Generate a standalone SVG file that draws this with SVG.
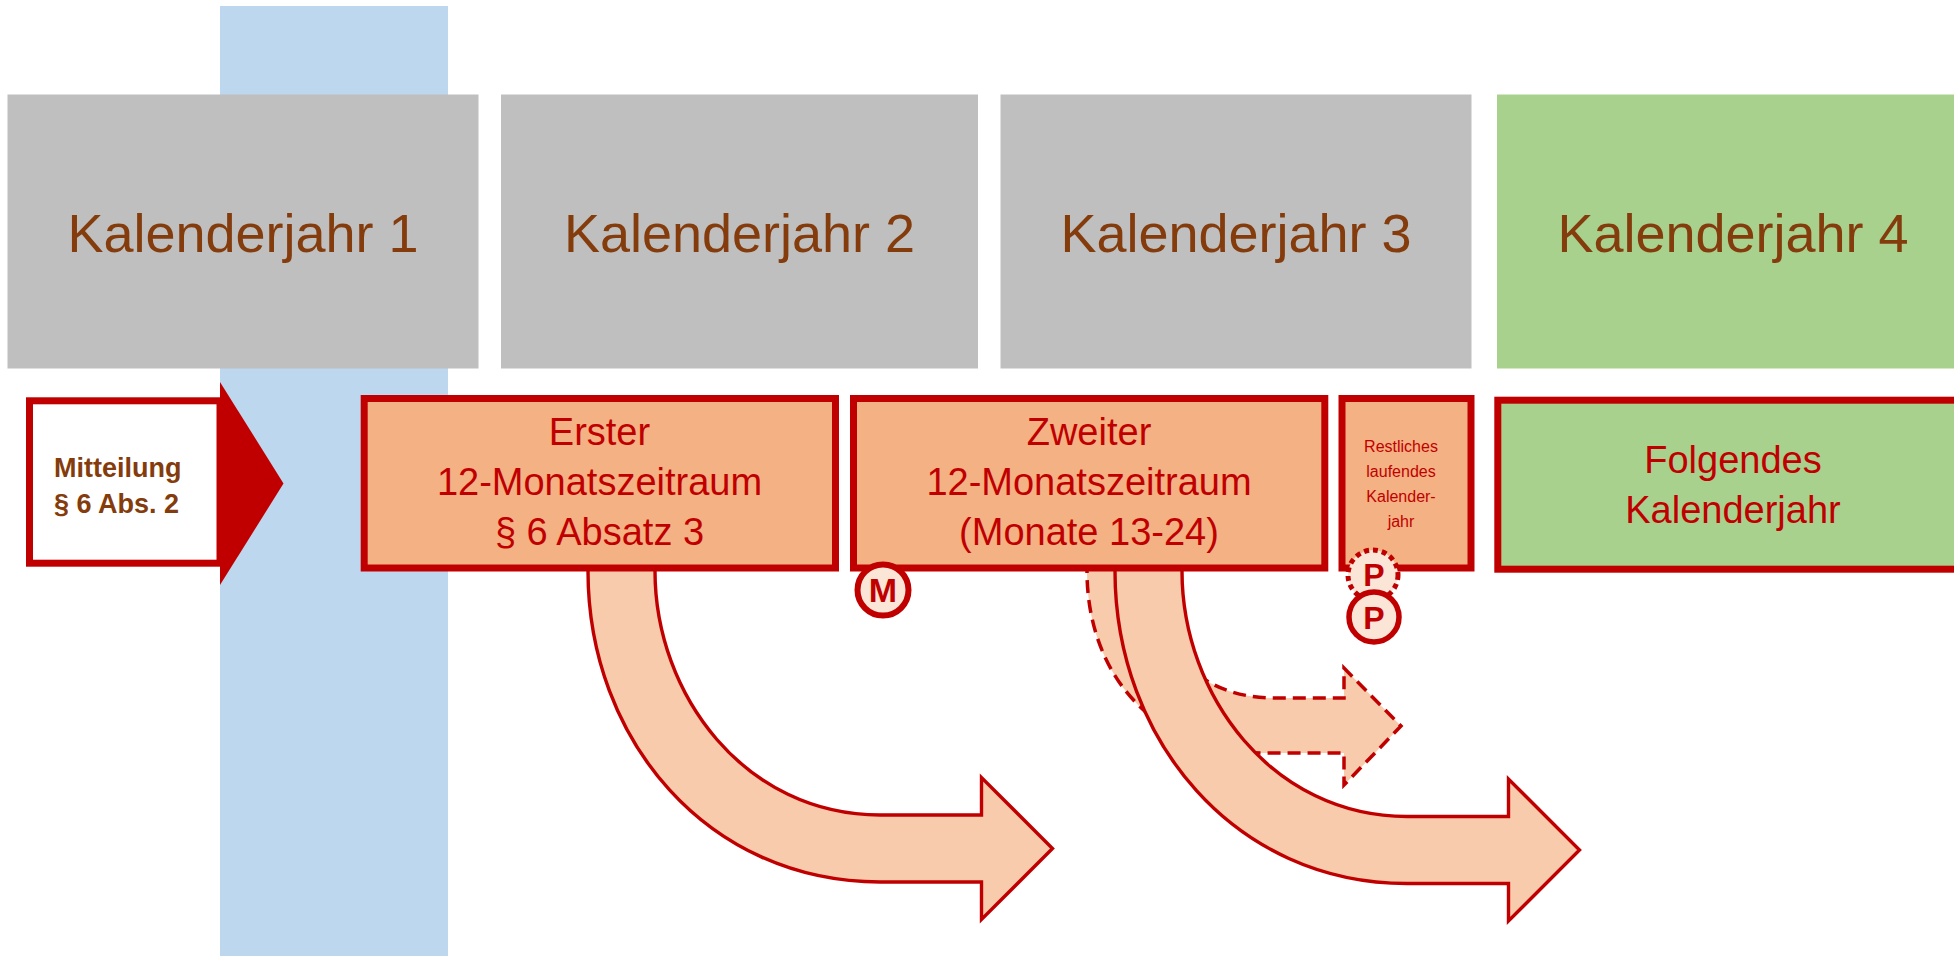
<svg xmlns="http://www.w3.org/2000/svg" width="1954" height="956" viewBox="0 0 1954 956">
<style>
.yr{fill:#BFBFBF}
.yr4{fill:#A9D18E}
.yt{font-family:"Liberation Sans",Arial,sans-serif;font-size:54px;fill:#843C0C;text-anchor:middle}
.box{fill:#F4B183;stroke:#C00000;stroke-width:7}
.gbox{fill:#A9D18E;stroke:#C00000;stroke-width:7}
.bt{font-family:"Liberation Sans",Arial,sans-serif;font-size:38px;fill:#C00000;text-anchor:middle}
.st{font-family:"Liberation Sans",Arial,sans-serif;font-size:16px;fill:#C00000;text-anchor:middle}
.arr{fill:#F8CBAD;stroke:#C00000;stroke-width:3.4;stroke-linejoin:miter}
.dash{fill:#F8CBAD;stroke:#C00000;stroke-width:3.5;stroke-dasharray:13 7}
.mk{fill:#FBE5D6;stroke:#C00000}
.mt{font-family:"Liberation Sans",Arial,sans-serif;font-weight:bold;fill:#C00000;text-anchor:middle}
.mit{font-family:"Liberation Sans",Arial,sans-serif;font-size:27px;font-weight:bold;fill:#843C0C}
</style>
<rect width="1954" height="956" fill="#FFFFFF"/>
<g id="band"><rect x="220" y="6" width="228" height="950" fill="#BDD7EE"/></g>
<g id="kj1"><rect class="yr" x="7.5" y="94.5" width="471" height="274"/><text class="yt" x="243" y="252">Kalenderjahr 1</text></g>
<g id="kj2"><rect class="yr" x="501" y="94.5" width="477" height="274"/><text class="yt" x="739.5" y="252">Kalenderjahr 2</text></g>
<g id="kj3"><rect class="yr" x="1000.5" y="94.5" width="471" height="274"/><text class="yt" x="1236" y="252">Kalenderjahr 3</text></g>
<g id="kj4"><rect class="yr4" x="1497" y="94.5" width="473" height="274"/><text class="yt" x="1733" y="252">Kalenderjahr 4</text></g>
<g id="mitteilung">
<rect x="29.5" y="400.8" width="190.5" height="162.4" fill="#FFFFFF" stroke="#C00000" stroke-width="7"/>
<polygon points="220,382 283.5,483.5 220,585" fill="#C00000"/>
<text class="mit" x="54" y="477">Mitteilung</text>
<text class="mit" x="54" y="513">§ 6 Abs. 2</text>
</g>
<g id="connectors">
<path id="arrow-dashed" class="dash" d="M 1087 560 L 1087 571 C 1087 675 1155 753 1262 753 L 1344 753 L 1344 785 L 1401 726 L 1344 668 L 1344 698 L 1275 698 C 1200 698 1153 650 1153 571 L 1153 560 Z"/>
<path id="arrow1" class="arr" d="M 588 560 L 588 571 C 588 740 708 882 880 882 L 981.5 882 L 981.5 919.5 L 1052.5 848.5 L 981.5 777.5 L 981.5 815 L 880 815 C 745 815 655 695 655 571 L 655 560 Z"/>
<path id="arrow2" class="arr" d="M 1115 560 L 1115 571 C 1115 740 1235 883.5 1407 883.5 L 1508.5 883.5 L 1508.5 921 L 1579.5 850 L 1508.5 779 L 1508.5 816.5 L 1407 816.5 C 1272 816.5 1182 695 1182 571 L 1182 560 Z"/>
</g>
<g id="erster"><rect class="box" x="364.2" y="398.5" width="471.3" height="169.5"/>
<text class="bt" x="599.5" y="445">Erster</text><text class="bt" x="599.5" y="495">12-Monatszeitraum</text><text class="bt" x="599.5" y="545">§ 6 Absatz 3</text></g>
<g id="zweiter"><rect class="box" x="853.5" y="398.5" width="471.3" height="169.5"/>
<text class="bt" x="1089" y="445">Zweiter</text><text class="bt" x="1089" y="495">12-Monatszeitraum</text><text class="bt" x="1089" y="545">(Monate 13-24)</text></g>
<g id="restliches"><rect class="box" x="1342" y="398.5" width="129" height="169.5"/>
<text class="st" x="1401" y="452">Restliches</text><text class="st" x="1401" y="477">laufendes</text><text class="st" x="1401" y="502">Kalender-</text><text class="st" x="1401" y="527">jahr</text></g>
<g id="folgendes"><rect class="gbox" x="1497.8" y="400.2" width="480" height="169"/>
<text class="bt" x="1733" y="473">Folgendes</text><text class="bt" x="1733" y="523">Kalenderjahr</text></g>
<g id="marker-m"><circle class="mk" cx="883" cy="590" r="25.5" stroke-width="6"/><text class="mt" x="883" y="602" font-size="34">M</text></g>
<g id="marker-p-dotted"><circle class="mk" cx="1373" cy="575" r="25" stroke-width="5" stroke-dasharray="5 4"/><text class="mt" x="1374" y="586" font-size="32">P</text></g>
<g id="marker-p"><circle class="mk" cx="1374" cy="617" r="25" stroke-width="5.5"/><text class="mt" x="1374" y="629" font-size="32">P</text></g>
</svg>
